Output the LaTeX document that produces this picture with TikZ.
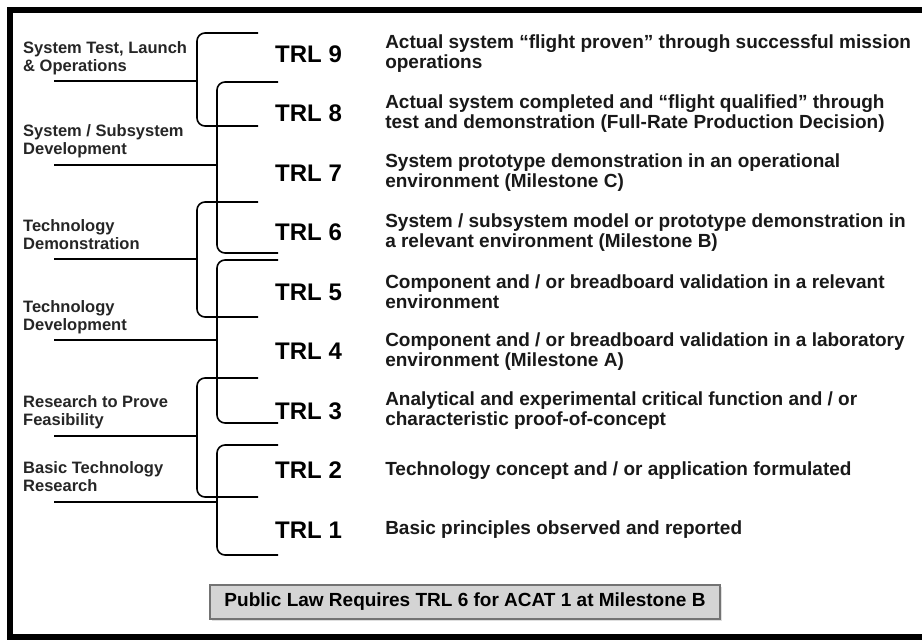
\documentclass[tikz,border=0pt]{standalone}
\usepackage{fontspec}
\setmainfont{Liberation Sans}
\usetikzlibrary{positioning, shadows}

\begin{document}
\begin{tikzpicture}[
    x=1pt, y=-1pt,
    trl/.style  ={anchor=base west, inner sep=0pt, font=\fontsize{24}{26}\selectfont\bfseries},
    desc/.style ={right=43pt of #1, inner sep=0pt, align=left,
                  font=\fontsize{19}{20}\selectfont\bfseries, text=black!90},
    grp/.style  ={anchor=base west, inner sep=0pt, align=left,
                  font=\fontsize{16.5}{17.5}\selectfont\bfseries, text=black!85},
    brace/.style={line width=1.6pt, rounded corners=8pt},
    stem/.style ={line width=1.6pt},
    lawbox/.style={draw=black!55, line width=1.5pt, fill=black!17,
                  minimum width=510pt, minimum height=34pt, inner sep=0pt,
                  font=\fontsize{19}{20}\selectfont\bfseries,
                  drop shadow={opacity=0.25, shadow xshift=2pt, shadow yshift=-2pt}},
]
\clip (0,0) rectangle (922,641);
\fill[white] (0,0) rectangle (922,641);
\draw[line width=6pt] (10,10) rectangle (930,637);

% readiness levels
\node[trl] (trl9) at (275,62)    {TRL 9};
\node[trl] (trl8) at (275,121.5) {TRL 8};
\node[trl] (trl7) at (275,181)   {TRL 7};
\node[trl] (trl6) at (275,240.5) {TRL 6};
\node[trl] (trl5) at (275,300)   {TRL 5};
\node[trl] (trl4) at (275,359.5) {TRL 4};
\node[trl] (trl3) at (275,419)   {TRL 3};
\node[trl] (trl2) at (275,478.5) {TRL 2};
\node[trl] (trl1) at (275,538)   {TRL 1};

\node[desc=trl9] (d9) {Actual system “flight proven” through successful mission\\operations};
\node[desc=trl8] (d8) {Actual system completed and “flight qualified” through\\test and demonstration (Full-Rate Production Decision)};
\node[desc=trl7] (d7) {System prototype demonstration in an operational\\environment (Milestone C)};
\node[desc=trl6] (d6) {System / subsystem model or prototype demonstration in\\a relevant environment (Milestone B)};
\node[desc=trl5] (d5) {Component and / or breadboard validation in a relevant\\environment};
\node[desc=trl4] (d4) {Component and / or breadboard validation in a laboratory\\environment (Milestone A)};
\node[desc=trl3] (d3) {Analytical and experimental critical function and / or\\characteristic proof-of-concept};
\node[desc=trl2] (d2) {Technology concept and / or application formulated};
\node[desc=trl1] (d1) {Basic principles observed and reported};

% phases on the left (base = last line)
\node[grp] (g1) at (23,71)  {System Test, Launch\\\& Operations};
\node[grp] (g2) at (23,154) {System / Subsystem\\Development};
\node[grp] (g3) at (23,249) {Technology\\Demonstration};
\node[grp] (g4) at (23,330) {Technology\\Development};
\node[grp] (g5) at (23,425) {Research to Prove\\Feasibility};
\node[grp] (g6) at (23,491) {Basic Technology\\Research};

\coordinate (s1) at (54,81);
\coordinate (s2) at (54,165);
\coordinate (s3) at (54,259);
\coordinate (s4) at (54,340);
\coordinate (s5) at (54,436);
\coordinate (s6) at (54,502);

% brackets
\draw[brace] (258,33)  -- (197,33)  -- (197,126) -- (258,126);
\draw[brace] (278,82)  -- (217,82)  -- (217,253) -- (278,253);
\draw[brace] (258,202) -- (197,202) -- (197,317) -- (258,317);
\draw[brace] (278,260) -- (217,260) -- (217,423) -- (278,423);
\draw[brace] (258,378) -- (197,378) -- (197,497) -- (258,497);
\draw[brace] (278,445) -- (217,445) -- (217,555) -- (278,555);

\draw[stem] (s1) -- (197,81);
\draw[stem] (s2) -- (217,165);
\draw[stem] (s3) -- (197,259);
\draw[stem] (s4) -- (217,340);
\draw[stem] (s5) -- (197,436);
\draw[stem] (s6) -- (217,502);

\node[lawbox] (law) at (465,602) {Public Law Requires TRL 6 for ACAT 1 at Milestone B};
\end{tikzpicture}
\end{document}
